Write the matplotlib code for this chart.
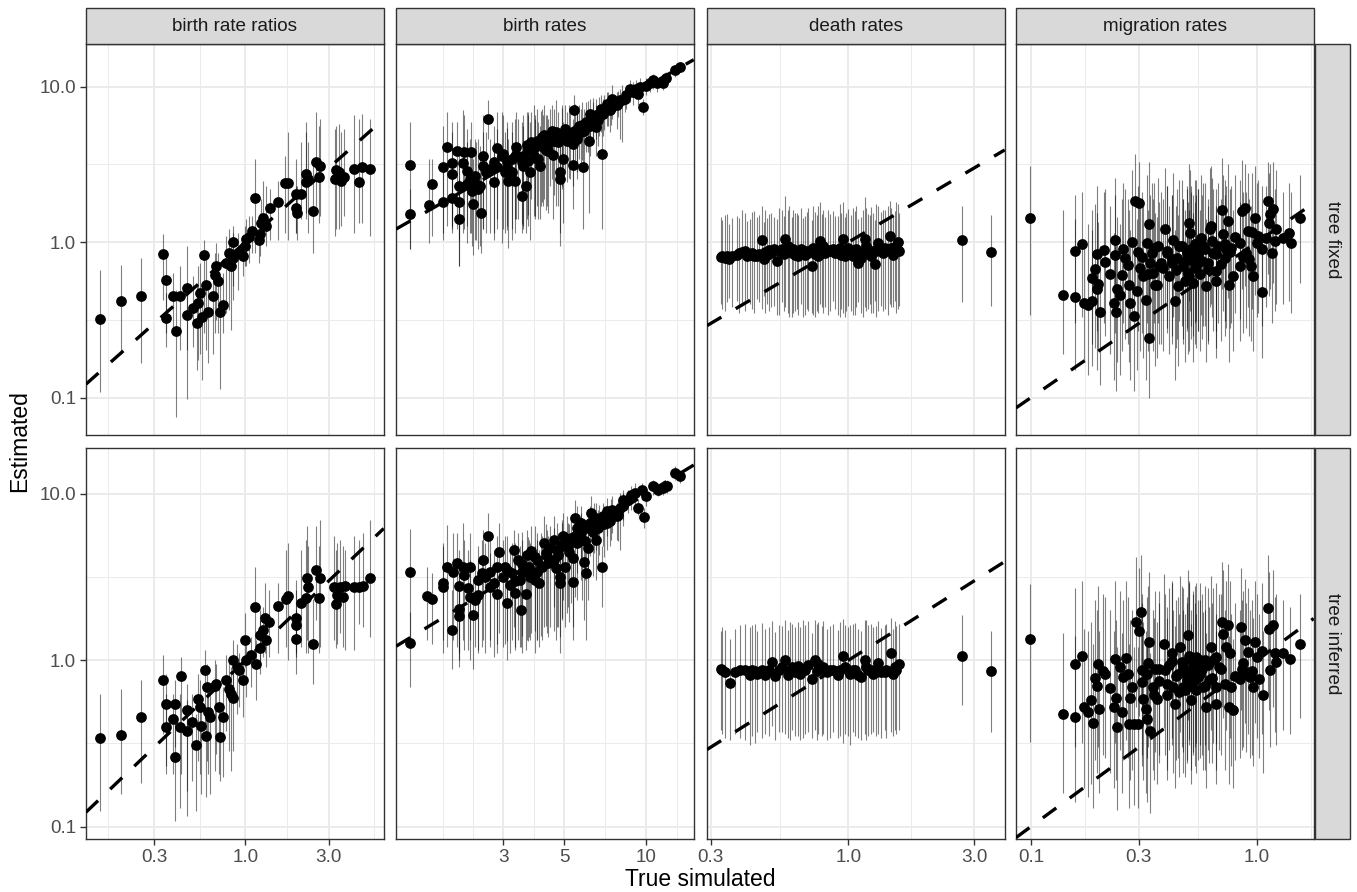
import numpy as np
import matplotlib.pyplot as plt
from matplotlib.patches import Rectangle
from matplotlib.ticker import FixedLocator, NullFormatter

plt.rcParams['font.family'] = ['Liberation Sans', 'DejaVu Sans']

# ---------------------------------------------------------------
# Data (true simulated value, estimate, interval)
# ---------------------------------------------------------------

# birth rate ratios, tree fixed
ratio_fixed_x = [0.146,0.193,0.253,0.337,0.349,0.349,0.398,0.386,0.421,0.460,
                 0.460,0.498,0.525,0.537,0.548,0.561,0.578,0.593,0.612,0.653,
                 0.668,0.677,0.698,0.719,0.739,0.778,0.807,0.832,0.851,0.851,
                 0.908,0.970,0.991,1.004,1.049,1.096,1.130,1.197,1.218,1.234,
                 1.262,1.306,1.377,1.537,1.678,1.753,1.956,1.956,1.974,2.089,
                 2.212,2.232,2.280,2.435,2.523,2.636,2.683,3.237,3.311,3.428,
                 3.537,3.646,4.159,4.463,4.664,5.180]
ratio_fixed_y = [0.319,0.416,0.452,0.845,0.574,0.324,0.268,0.448,0.448,0.507,
                 0.340,0.376,0.301,0.405,0.470,0.332,0.832,0.532,0.358,0.448,
                 0.618,0.700,0.560,0.358,0.395,0.735,0.853,0.700,0.792,1.0,
                 0.853,0.812,0.94,1.05,1.08,1.18,1.91,1.03,1.12,1.32,
                 1.44,1.27,1.67,1.82,2.39,2.39,2.05,1.67,1.55,2.03,
                 2.44,2.74,2.54,1.59,3.26,2.61,3.10,2.54,2.92,2.81,
                 2.48,2.61,2.95,2.44,3.03,2.95]
ratio_fixed_lo = [0.109,0.192,0.168,0.426,0.259,0.213,0.075,0.259,0.202,0.0985,
                  0.202,0.213,0.150,0.174,0.192,0.129,0.259,0.202,0.166,0.192,
                  0.259,0.316,0.259,0.114,0.259,0.349,0.367,0.272,0.426,0.519,
                  0.494,0.603,0.700,0.700,0.735,0.853,0.853,0.735,0.812,1.04,
                  1.04,0.94,1.04,1.04,1.15,1.04,1.15,1.15,1.04,1.40,
                  1.40,1.55,1.15,0.853,1.71,1.33,1.47,1.09,1.21,1.21,
                  1.27,1.47,1.15,1.33,1.33,1.09]
ratio_fixed_hi = [0.666,0.717,0.792,1.12,0.853,0.470,0.494,0.634,0.700,0.94,
                  0.519,0.603,0.519,0.700,0.735,0.546,1.04,0.773,0.546,0.603,
                  0.853,0.99,0.853,0.574,0.634,1.09,1.21,1.04,1.15,1.27,
                  1.15,1.09,1.27,1.40,1.47,1.47,3.42,1.40,1.55,1.89,
                  2.48,2.30,2.19,2.48,3.60,5.09,3.42,2.30,2.30,4.39,
                  5.09,5.91,4.39,3.10,6.86,5.62,6.21,5.35,5.62,5.77,
                  5.09,5.35,6.53,6.21,6.69,6.21]

# birth rate ratios, tree inferred
ratio_inferred_x = [0.146,0.193,0.253,0.337,0.349,0.349,0.395,0.395,0.386,0.425,
                    0.421,0.460,0.464,0.491,0.520,0.537,0.548,0.553,0.586,0.593,
                    0.604,0.612,0.625,0.668,0.677,0.707,0.719,0.745,0.778,0.807,
                    0.832,0.851,0.851,0.896,0.920,0.970,0.991,1.013,1.082,1.130,
                    1.156,1.207,1.218,1.262,1.290,1.306,1.365,1.537,1.70,1.753,
                    1.94,1.956,1.956,2.089,2.212,2.25,2.28,2.435,2.523,2.636,
                    2.683,3.20,3.28,3.34,3.49,3.61,3.74,4.159,4.463,4.70,
                    5.180]
ratio_inferred_y = [0.341,0.357,0.455,0.757,0.548,0.396,0.263,0.548,0.444,0.804,
                    0.396,0.504,0.378,0.424,0.311,0.587,0.523,0.405,0.879,0.352,
                    0.690,0.488,0.455,0.697,0.723,0.523,0.348,0.455,0.764,0.675,
                    0.629,0.595,1.0,0.912,0.870,0.764,1.32,1.0,1.07,2.10,
                    0.946,1.18,1.42,1.52,1.79,1.33,1.70,2.13,2.32,2.43,
                    1.79,1.63,1.35,2.20,2.36,3.11,2.77,1.25,3.49,2.36,
                    3.11,2.77,2.17,2.47,2.77,2.41,2.80,2.77,2.77,2.80,
                    3.11]
ratio_inferred_lo = [0.124,0.157,0.184,0.361,0.232,0.207,0.108,0.300,0.207,0.207,
                     0.130,0.116,0.164,0.189,0.124,0.249,0.207,0.157,0.415,0.150,
                     0.249,0.207,0.157,0.217,0.273,0.207,0.189,0.198,0.378,0.286,
                     0.217,0.286,0.659,0.477,0.523,0.455,0.912,0.601,0.690,1.20,
                     0.574,0.831,0.912,1.05,1.10,0.912,1.05,1.10,1.20,1.0,
                     1.05,1.10,0.831,1.20,1.10,1.32,1.10,0.723,1.74,1.10,
                     1.20,1.32,1.18,1.26,1.45,1.20,1.15,1.15,1.66,1.59,
                     1.38]
ratio_inferred_hi = [0.629,0.675,0.757,1.07,0.831,0.629,0.477,0.757,0.629,1.05,
                     0.629,0.723,0.574,0.629,0.477,0.831,0.757,0.629,1.15,0.523,
                     0.955,0.659,0.629,1.0,0.955,0.757,0.477,0.690,1.07,1.0,
                     0.912,0.831,1.32,1.26,1.10,1.05,1.91,1.38,1.38,3.66,
                     1.32,1.74,2.0,2.10,2.90,1.91,2.65,2.90,4.61,5.06,
                     3.04,2.65,2.0,4.61,5.30,6.38,4.83,2.32,6.38,4.83,
                     7.0,5.55,4.61,5.06,5.30,4.83,4.61,5.55,5.30,5.82,
                     7.0]

# birth rates, tree fixed
birth_fixed_x = [1.37,1.36,1.60,1.64,1.80,1.80,1.86,1.95,1.95,1.95,
                 2.03,2.06,2.06,2.06,2.13,2.15,2.20,2.28,2.27,2.33,
                 2.38,2.43,2.48,2.53,2.59,2.64,2.67,2.76,2.84,2.85,
                 2.96,3.04,3.08,3.13,3.22,3.31,3.33,3.40,3.50,3.55,
                 3.63,3.65,3.70,3.75,3.80,3.88,3.97,4.03,4.08,4.14,
                 4.22,4.32,4.56,4.67,4.76,4.83,4.83,4.90,4.97,5.04,
                 5.11,5.25,5.37,5.40,5.43,5.56,5.68,5.87,5.90,6.04,
                 6.18,6.21,6.39,6.53,6.57,6.80,6.91,6.95,7.15,7.35,
                 7.52,7.78,8.00,8.17,8.45,8.69,8.94,9.33,9.51,9.72,
                 10.0,10.6,10.9,11.5,11.8,12.7,13.3,
                 4.20,4.38,4.44,
                 4.50,3.91,3.55,3.22,3.0,2.76,2.53,2.36,2.47,2.30,
                 2.20,6.21,6.67,5.56,5.79,7.25,8.34,9.20,10.3,
                 3.1,3.3,3.5,3.7,3.9,4.1,4.3,4.6,4.9,5.2,
                 5.5,5.8,6.1,6.4,6.7,7.0,7.4,7.9]
birth_fixed_y = [3.15,1.51,1.73,2.38,3.05,1.80,4.07,1.91,3.21,2.74,
                 3.84,2.28,1.80,1.40,3.21,3.82,2.88,3.82,2.54,1.75,
                 2.36,2.19,1.55,3.10,2.81,6.15,2.95,2.44,4.01,3.03,
                 3.60,2.81,3.34,2.48,3.42,2.48,4.07,3.60,1.98,3.10,
                 2.30,4.22,3.34,2.81,4.39,3.60,4.50,3.42,3.10,4.73,
                 4.89,4.18,3.63,5.09,4.39,2.81,2.54,4.84,3.42,5.35,
                 4.50,4.84,3.13,4.28,7.03,5.09,5.62,3.03,5.22,5.91,
                 4.50,6.69,6.21,5.48,6.53,7.21,3.69,6.69,7.76,7.03,
                 8.36,7.57,8.16,8.16,8.79,9.61,9.24,9.01,9.95,7.39,
                 10.1,11.0,10.5,10.5,11.3,12.8,13.4,
                 4.07,3.87,4.61,
                 5.22,4.07,3.60,2.81,3.69,3.26,3.60,2.67,2.30,2.14,
                 2.36,5.62,6.06,4.61,5.09,7.57,8.36,9.71,10.5,
                 3.0,3.6,3.3,3.9,3.5,4.2,3.9,4.5,4.6,5.0,
                 5.2,5.7,5.9,6.3,6.6,7.1,7.3,7.9]
birth_fixed_lo = [0.90,0.90,0.99,1.09,1.15,1.04,1.27,1.15,1.21,1.27,
                  1.21,1.04,0.70,0.70,1.15,1.21,1.27,1.15,1.15,0.832,
                  1.04,0.90,0.853,1.21,1.15,4.61,1.15,1.04,1.40,1.21,
                  0.99,1.15,1.27,0.92,1.21,1.15,1.40,1.40,1.15,1.21,
                  1.15,1.40,1.27,1.04,1.89,1.47,1.71,1.40,1.40,1.80,
                  1.89,1.71,1.40,1.71,1.71,0.94,1.15,2.30,1.33,2.81,
                  2.42,2.54,1.63,2.30,3.97,2.81,3.42,1.21,2.81,3.78,
                  1.55,4.39,4.39,3.60,4.61,5.09,1.21,4.84,5.62,5.09,
                  6.21,5.35,4.61,4.39,7.21,7.96,7.57,7.57,8.36,6.53,
                  8.79,9.71,9.24,9.47,9.95,11.5,12.4,
                  1.71,1.55,2.30,
                  2.54,1.47,1.27,1.04,1.21,1.15,1.21,1.04,0.94,0.94,
                  0.99,3.60,4.18,2.54,3.10,5.62,6.86,8.36,9.24,
                  1.2,1.4,1.3,1.5,1.4,1.7,1.6,2.0,2.2,2.6,
                  2.9,3.4,3.8,4.3,4.8,5.3,5.7,6.4]
birth_fixed_hi = [5.91,2.19,3.42,3.42,5.62,3.10,6.86,3.42,5.91,5.09,
                  5.91,4.18,3.10,2.54,7.03,6.53,5.35,5.91,4.61,3.42,
                  4.39,4.61,2.81,5.09,5.09,8.16,4.61,4.39,6.86,5.35,
                  6.86,5.09,5.91,4.61,5.91,4.18,6.86,6.21,3.42,5.62,
                  4.39,6.86,6.86,5.91,6.86,7.57,7.21,5.91,5.62,7.21,
                  7.57,6.53,5.62,8.16,6.86,4.84,4.61,7.57,5.91,7.57,
                  6.86,7.21,5.09,6.21,8.79,7.21,7.57,5.09,7.21,7.96,
                  6.53,8.36,7.96,7.57,8.36,8.79,5.91,8.36,9.24,8.79,
                  10.2,9.24,9.71,10.2,10.2,11.0,10.7,10.5,11.3,8.36,
                  11.3,12.1,11.5,11.5,12.4,13.7,14.4,
                  6.53,6.21,7.21,
                  7.57,6.53,6.53,5.09,6.53,5.62,6.53,4.61,4.18,3.78,
                  4.39,7.21,7.57,6.86,7.21,9.24,9.95,11.0,11.5,
                  5.4,6.2,5.9,6.6,6.2,7.0,6.6,7.2,7.3,7.6,
                  7.7,8.0,8.1,8.4,8.6,8.9,9.0,9.4]

# birth rates, tree inferred
birth_inferred_x = [1.36,1.37,1.58,1.64,1.80,1.80,1.86,1.95,1.96,2.03,
                    2.06,2.06,2.06,2.13,2.15,2.23,2.27,2.27,2.33,2.36,
                    2.43,2.50,2.57,2.64,2.67,2.84,2.88,2.84,3.0,3.10,
                    3.17,3.28,3.31,3.40,3.47,3.52,3.63,3.65,3.73,3.80,
                    3.91,3.99,4.06,4.14,4.22,4.32,4.44,4.59,4.67,4.76,
                    4.83,4.83,4.93,5.04,5.11,5.28,5.37,5.37,5.47,5.56,
                    5.75,5.90,5.96,6.04,6.13,6.21,6.30,6.43,6.53,6.67,
                    6.86,6.95,7.15,7.35,7.52,7.78,8.0,8.22,8.58,8.82,
                    9.06,9.33,9.67,9.78,10.0,10.6,11.0,11.5,11.9,12.7,
                    13.3,
                    2.68,2.43,2.53,2.76,3.04,3.22,3.45,3.75,
                    3.97,4.38,4.70,4.97,5.18,5.56,5.79,6.57,7.15,8.22,
                    3.1,3.3,3.5,3.7,3.9,4.1,4.3,4.6,4.9,5.2,
                    5.5,5.8,6.1,6.4,6.7,7.0,7.4,7.9]
birth_inferred_y = [1.27,3.37,2.43,2.32,2.90,2.77,3.66,1.52,3.41,3.83,
                    2.80,2.02,1.84,3.66,3.26,2.71,3.66,2.41,1.87,2.30,
                    2.47,3.33,3.18,5.60,2.77,2.50,4.45,3.66,3.18,2.22,
                    2.84,4.61,2.52,4.01,2.00,3.41,2.50,4.30,3.66,4.51,
                    3.04,4.01,2.90,3.66,5.06,4.21,4.72,5.30,3.57,4.30,
                    3.18,2.90,4.83,3.61,5.30,5.42,4.11,2.97,7.16,6.24,
                    5.82,3.92,5.18,3.33,4.72,6.68,7.68,7.0,5.30,6.24,
                    3.66,7.33,6.68,6.84,8.04,7.33,8.23,9.24,9.24,9.91,
                    10.1,8.23,10.6,7.26,9.68,11.1,10.6,10.9,11.1,13.4,
                    12.8,
                    3.41,3.04,4.01,2.90,3.66,3.33,3.04,3.18,
                    3.41,3.83,4.61,5.55,4.83,5.06,6.68,7.16,7.86,8.43,
                    3.5,3.0,3.8,3.4,4.2,3.7,4.4,4.0,4.9,4.5,
                    5.6,5.3,6.2,5.9,6.9,6.6,7.6,7.5]
birth_inferred_lo = [0.69,1.32,1.32,1.26,1.10,1.32,1.20,0.891,1.32,1.20,
                     0.912,1.0,1.10,1.32,1.15,1.15,1.32,1.0,0.891,1.20,
                     1.10,1.20,1.10,3.83,1.20,1.10,1.45,1.26,1.20,1.0,
                     1.10,1.59,1.15,1.32,1.20,1.10,1.15,1.32,1.38,1.45,
                     1.10,1.32,1.20,1.32,1.59,1.45,1.59,2.10,1.32,1.59,
                     1.38,1.10,1.74,1.59,1.91,2.20,1.59,1.32,4.83,3.33,
                     3.04,1.74,3.04,1.32,2.30,4.21,5.55,4.40,3.04,3.66,
                     2.10,4.83,4.61,4.83,5.82,5.30,4.61,7.0,7.68,8.04,
                     8.43,7.50,9.24,6.24,8.43,9.91,9.68,9.91,10.1,12.2,
                     11.6,
                     1.32,1.15,1.32,1.05,1.26,1.32,1.20,1.32,
                     1.32,1.38,1.59,2.30,2.10,2.30,4.01,4.61,5.55,6.38,
                     1.3,1.2,1.4,1.3,1.5,1.4,1.6,1.5,1.8,1.7,
                     2.4,2.3,3.3,3.2,4.3,4.2,5.3,5.2]
birth_inferred_hi = [1.96,6.15,3.66,3.33,5.06,4.83,6.53,2.65,5.82,5.82,
                     4.61,3.33,3.04,6.68,5.30,4.61,5.82,4.01,3.04,3.66,
                     4.01,5.30,5.06,7.68,4.40,3.83,6.68,5.55,5.30,3.66,
                     4.61,6.09,4.21,5.82,3.33,5.30,4.21,6.09,5.30,6.38,
                     4.83,5.82,4.61,5.55,7.33,6.09,6.38,7.33,5.55,5.82,
                     4.83,4.61,6.68,5.55,7.33,7.33,5.82,4.61,9.24,8.43,
                     7.68,5.30,7.0,4.83,6.68,8.43,9.68,8.82,7.0,8.04,
                     4.83,8.82,8.43,8.43,9.68,8.82,10.1,10.6,10.6,11.1,
                     11.6,9.24,11.6,8.23,10.6,12.2,11.6,11.9,12.2,14.7,
                     14.0,
                     5.30,4.83,6.09,4.61,5.55,5.06,4.83,5.06,
                     5.30,5.55,6.68,7.68,6.68,7.0,8.43,8.82,9.46,10.1,
                     5.6,5.1,5.9,5.5,6.4,5.8,6.6,6.2,7.0,6.6,
                     7.5,7.2,8.1,7.9,8.6,8.4,9.3,9.2]

# death rates, tree fixed
death_fixed_x = [0.327,0.340,0.352,0.362,0.376,0.406,0.424,0.437,0.450,0.470,
                 0.477,0.498,0.520,0.535,0.559,0.575,0.589,0.610,0.627,0.646,
                 0.661,0.675,0.695,0.725,0.736,0.757,0.780,0.802,0.814,0.851,
                 0.875,0.914,0.941,0.955,0.969,0.997,1.026,1.057,1.087,1.119,
                 1.152,1.169,1.204,1.239,1.257,1.295,1.332,1.371,1.432,1.475,
                 1.496,1.539,1.562,
                 0.332,0.347,0.384,0.395,0.412,0.431,0.456,
                 0.483,0.491,0.509,0.543,0.567,0.596,0.618,0.637,0.684,0.705,
                 0.746,0.769,0.791,0.834,0.888,0.927,0.983,1.042,1.072,1.136,
                 1.186,1.221,1.276,1.352,1.412,1.453,1.517,
                 2.69,3.48]
death_fixed_y = [0.804,0.792,0.780,0.820,0.832,0.875,0.832,0.820,0.812,1.03,
                 0.780,0.888,0.90,0.753,0.90,1.05,0.94,0.853,0.832,0.812,
                 0.90,0.853,0.875,0.70,0.92,0.875,1.015,0.94,0.853,0.875,
                 0.90,0.888,0.832,1.05,0.812,0.92,0.845,0.875,0.735,0.792,
                 1.05,0.94,0.853,0.875,0.728,0.99,0.90,0.92,1.09,0.832,
                 0.90,1.0,0.875,
                 0.812,0.812,0.853,0.861,0.812,0.853,0.845,
                 0.861,0.832,0.853,0.875,0.845,0.875,0.90,0.861,0.832,0.853,
                 0.845,0.820,0.861,0.888,0.853,0.92,0.875,0.812,0.906,0.853,
                 0.888,0.820,0.875,0.853,0.888,0.92,0.94,
                 1.03,0.866]
death_fixed_lo = [0.40,0.36,0.44,0.38,0.42,0.36,0.40,0.35,0.43,0.37,
                  0.45,0.36,0.39,0.34,0.41,0.38,0.35,0.33,0.36,0.34,
                  0.40,0.33,0.37,0.35,0.34,0.36,0.40,0.35,0.38,0.36,
                  0.42,0.34,0.37,0.35,0.33,0.39,0.36,0.34,0.41,0.35,
                  0.38,0.36,0.40,0.35,0.42,0.36,0.39,0.37,0.40,0.38,
                  0.42,0.37,0.39,
                  0.37,0.41,0.35,0.39,0.43,0.37,0.41,
                  0.35,0.40,0.38,0.34,0.36,0.33,0.35,0.37,0.34,0.36,
                  0.33,0.35,0.38,0.34,0.37,0.33,0.36,0.34,0.38,0.33,
                  0.37,0.35,0.33,0.36,0.34,0.38,0.35,
                  0.415,0.386]
death_fixed_hi = [1.45,1.50,1.30,1.42,1.48,1.55,1.40,1.58,1.45,1.70,
                  1.35,1.52,1.46,1.40,1.60,1.98,1.62,1.45,1.55,1.50,
                  1.66,1.42,1.56,1.38,1.72,1.50,1.80,1.60,1.46,1.52,
                  1.58,1.48,1.55,1.82,1.45,1.63,1.50,1.58,1.40,1.46,
                  1.95,1.66,1.50,1.55,1.38,1.70,1.56,1.62,1.85,1.50,
                  1.58,1.75,1.55,
                  1.38,1.52,1.44,1.60,1.36,1.57,1.49,
                  1.62,1.42,1.55,1.65,1.48,1.70,1.60,1.53,1.48,1.66,
                  1.57,1.70,1.52,1.62,1.48,1.75,1.55,1.66,1.72,1.60,
                  1.52,1.68,1.75,1.60,1.72,1.66,1.80,
                  1.71,1.49]

# death rates, tree inferred
death_inferred_x = [0.327,0.340,0.354,0.372,0.406,0.424,0.431,0.450,0.470,0.483,
                    0.512,0.527,0.559,0.575,0.592,0.610,0.646,0.655,0.684,0.705,
                    0.725,0.746,0.769,0.791,0.826,0.875,0.914,0.955,0.969,0.997,
                    1.042,1.087,1.119,1.152,1.186,1.239,1.295,1.332,1.371,1.445,
                    1.475,1.517,1.562,
                    0.332,0.389,0.443,0.498,0.543,0.601,0.627,
                    0.675,0.757,0.802,0.851,0.927,1.012,1.057,1.169,1.221,1.276,
                    1.392,1.496,
                    2.69,3.48]
death_inferred_y = [0.891,0.851,0.730,0.851,0.879,0.812,0.870,0.831,0.870,0.812,
                    0.977,0.800,0.912,1.0,0.812,0.912,0.920,0.831,0.870,0.933,
                    0.775,1.0,0.955,0.870,0.851,0.870,0.812,1.057,0.912,0.870,
                    0.870,0.812,0.793,1.0,0.870,0.831,0.964,0.851,0.851,1.11,
                    0.831,0.870,0.946,
                    0.870,0.870,0.862,0.870,0.879,0.862,0.851,
                    0.891,0.858,0.912,0.879,0.870,0.831,0.879,0.912,0.879,0.851,
                    0.870,0.912,
                    1.06,0.859]
death_inferred_lo = [0.38,0.34,0.33,0.36,0.33,0.31,0.35,0.37,0.34,0.36,
                     0.40,0.33,0.37,0.36,0.34,0.38,0.35,0.33,0.36,0.37,
                     0.34,0.38,0.36,0.35,0.33,0.37,0.34,0.32,0.36,0.35,
                     0.37,0.34,0.33,0.36,0.35,0.37,0.36,0.34,0.38,0.37,
                     0.35,0.36,0.38,
                     0.36,0.34,0.32,0.35,0.37,0.33,0.35,
                     0.34,0.33,0.36,0.34,0.35,0.31,0.35,0.33,0.36,0.35,
                     0.34,0.38,
                     0.542,0.369]
death_inferred_hi = [1.50,1.52,1.35,1.55,1.66,1.58,1.62,1.50,1.68,1.55,
                     1.72,1.48,1.60,1.74,1.52,1.66,1.70,1.58,1.62,1.72,
                     1.46,1.74,1.70,1.60,1.55,1.66,1.52,1.78,1.64,1.58,
                     1.66,1.55,1.50,1.74,1.62,1.58,1.72,1.56,1.62,1.80,
                     1.55,1.60,1.66,
                     1.58,1.62,1.66,1.58,1.64,1.70,1.58,
                     1.74,1.66,1.72,1.60,1.70,1.62,1.68,1.74,1.66,1.60,
                     1.66,1.72,
                     1.87,1.50]

# migration rates, tree fixed
migr_fixed_x = [0.0986,0.138,0.156,0.156,0.168,0.172,0.178,0.186,0.186,0.192,
                0.197,0.199,0.197,0.202,0.211,0.213,0.224,0.232,0.236,0.236,
                0.238,0.241,0.248,0.252,0.256,0.261,0.270,0.272,0.274,0.279,
                0.286,0.289,0.302,0.294,0.299,0.304,0.314,0.323,0.325,0.334,
                0.334,0.336,0.342,0.348,0.354,0.360,0.366,0.378,0.385,0.392,
                0.398,0.409,0.419,0.426,0.433,0.441,0.448,0.464,0.472,0.480,
                0.488,0.496,0.501,0.505,0.513,0.522,0.531,0.540,0.549,0.568,
                0.578,0.598,0.608,0.618,0.629,0.640,0.658,0.662,0.673,0.697,
                0.708,0.720,0.732,0.745,0.752,0.771,0.784,0.839,0.844,0.861,
                0.883,0.891,0.912,0.922,0.944,0.960,0.977,1.0,1.01,1.056,
                1.099,1.118,1.129,1.137,1.169,1.176,1.197,1.302,1.393,1.408,
                1.553,
                0.31,0.33,0.35,0.37,0.40,0.42,0.44,0.45,0.47,0.49,
                0.50,0.51,0.52,0.53,0.54,0.55,0.56,0.57,0.59,0.61,
                0.63,0.66,0.69,0.72,0.76,0.80,0.87,0.95,1.05,1.22]
migr_fixed_y = [1.44,0.454,0.441,0.875,0.98,0.409,0.395,0.416,0.588,0.673,
                0.845,0.541,0.499,0.355,0.888,0.743,0.627,0.409,1.03,0.832,
                0.358,0.499,0.459,0.618,0.906,0.792,0.717,0.532,0.405,1.0,
                0.336,1.84,1.78,0.482,0.861,0.683,0.603,0.426,0.99,1.30,
                0.241,0.735,0.853,0.634,0.532,0.532,0.94,0.735,0.683,1.21,
                0.853,0.603,0.735,1.04,0.416,0.792,0.519,0.94,0.700,0.560,
                0.853,0.634,1.33,1.15,0.773,0.546,0.966,0.700,0.853,1.07,
                0.94,0.519,0.735,1.21,1.27,0.853,0.560,0.649,0.94,1.61,
                1.12,0.792,0.90,1.37,0.532,0.92,0.603,0.99,0.700,1.59,
                1.67,0.853,1.18,0.780,0.700,0.603,1.44,0.99,1.09,0.475,
                1.07,1.84,1.32,1.51,0.853,1.63,1.015,1.07,1.15,0.99,
                1.42,
                0.80,0.62,0.92,0.70,0.88,0.78,0.66,0.95,0.74,0.86,
                0.61,0.90,0.79,0.68,0.97,0.83,0.62,0.76,0.91,0.67,
                1.02,0.84,0.72,0.97,0.86,1.08,0.80,1.16,0.90,1.21]
migr_fixed_lo = [0.34,0.19,0.15,0.30,0.33,0.17,0.14,0.16,0.22,0.21,
                 0.27,0.20,0.15,0.12,0.30,0.25,0.19,0.13,0.35,0.26,
                 0.11,0.17,0.14,0.20,0.30,0.24,0.22,0.17,0.13,0.33,
                 0.11,0.48,0.50,0.15,0.27,0.20,0.18,0.13,0.30,0.40,
                 0.10,0.23,0.25,0.20,0.16,0.18,0.30,0.22,0.20,0.38,
                 0.26,0.19,0.22,0.33,0.13,0.24,0.16,0.29,0.22,0.17,
                 0.27,0.19,0.42,0.36,0.24,0.17,0.30,0.21,0.27,0.34,
                 0.29,0.17,0.23,0.38,0.40,0.27,0.18,0.21,0.30,0.50,
                 0.36,0.25,0.28,0.44,0.17,0.30,0.20,0.32,0.23,0.50,
                 0.52,0.28,0.38,0.25,0.23,0.20,0.46,0.33,0.35,0.18,
                 0.38,0.62,0.45,0.50,0.30,0.55,0.36,0.40,0.42,0.35,
                 0.55,
                 0.26,0.20,0.30,0.22,0.28,0.25,0.21,0.31,0.24,0.28,
                 0.20,0.29,0.25,0.22,0.31,0.27,0.20,0.24,0.29,0.22,
                 0.33,0.27,0.23,0.31,0.28,0.35,0.26,0.37,0.29,0.40]
migr_fixed_hi = [3.10,1.60,1.40,2.0,2.1,1.05,1.30,1.20,1.60,1.75,
                 2.3,1.35,1.55,0.95,2.1,2.2,1.70,1.15,2.6,2.0,
                 1.0,1.45,1.30,1.9,2.4,2.2,1.9,1.6,1.2,2.9,
                 0.95,3.7,3.3,1.4,2.3,1.9,1.75,1.3,2.7,3.3,
                 0.62,2.0,2.4,1.9,1.55,1.45,2.6,2.1,1.9,3.0,
                 2.3,1.7,2.0,2.8,1.2,2.2,1.5,2.5,1.9,1.6,
                 2.3,1.8,3.2,2.9,2.1,1.55,2.5,2.0,2.2,2.7,
                 2.4,1.4,1.9,3.0,3.1,2.2,1.5,1.7,2.4,3.5,
                 2.7,2.0,2.3,3.2,1.4,2.3,1.6,2.5,1.8,3.4,
                 3.2,2.1,2.8,1.9,1.7,1.5,3.1,2.4,2.5,1.05,
                 2.3,3.3,2.8,3.2,1.9,3.3,2.2,2.1,2.4,2.1,
                 2.7,
                 2.1,1.6,2.4,1.8,2.3,2.0,1.7,2.5,1.9,2.2,
                 1.6,2.3,2.0,1.8,2.5,2.2,1.6,2.0,2.4,1.7,
                 2.6,2.2,1.9,2.5,2.2,2.7,2.1,2.8,2.3,2.9]

# migration rates, tree inferred
migr_inferred_x = [0.0986,0.138,0.156,0.156,0.168,0.172,0.178,0.184,0.188,0.192,
                   0.196,0.199,0.201,0.209,0.213,0.224,0.232,0.236,0.238,0.241,
                   0.248,0.252,0.256,0.264,0.270,0.272,0.274,0.279,0.286,0.292,
                   0.299,0.302,0.306,0.309,0.314,0.323,0.325,0.327,0.334,0.336,
                   0.348,0.354,0.360,0.370,0.388,0.392,0.398,0.409,0.419,0.426,
                   0.433,0.448,0.456,0.464,0.472,0.480,0.488,0.496,0.501,0.513,
                   0.522,0.531,0.540,0.558,0.578,0.588,0.598,0.614,0.629,0.640,
                   0.658,0.662,0.680,0.697,0.708,0.727,0.745,0.752,0.771,0.784,
                   0.839,0.853,0.861,0.883,0.897,0.912,0.928,0.960,0.977,1.0,
                   1.02,1.063,1.118,1.129,1.137,1.176,1.197,1.302,1.40,1.553,
                   0.31,0.33,0.35,0.37,0.40,0.42,0.44,0.45,0.47,0.49,
                   0.50,0.51,0.52,0.53,0.54,0.55,0.56,0.57,0.59,0.61,
                   0.63,0.66,0.69,0.72,0.76,0.80,0.87,0.95,1.05,1.22]
migr_inferred_y = [1.35,0.477,0.459,0.946,1.057,0.523,0.488,0.579,0.418,0.786,
                   0.697,0.946,0.511,0.862,0.823,0.684,0.523,1.02,0.595,0.396,
                   0.912,0.488,0.793,1.038,0.831,0.415,0.595,0.690,0.415,1.70,
                   0.411,1.50,1.96,0.870,0.587,0.511,0.444,0.831,1.29,0.378,
                   0.690,0.891,0.587,0.750,1.25,0.870,0.615,0.933,1.10,0.690,
                   0.548,0.831,1.20,0.977,0.690,0.659,0.831,1.42,1.02,0.574,
                   0.912,0.757,1.05,0.831,0.690,1.0,0.523,0.757,1.20,1.0,
                   0.548,0.690,0.912,1.70,1.44,1.20,1.63,0.523,0.690,0.499,
                   0.775,1.59,0.891,1.32,0.851,1.12,0.793,0.690,1.29,1.05,
                   0.775,0.615,2.05,1.55,0.870,1.63,1.10,1.10,1.02,1.25,
                   0.74,0.96,0.62,0.88,0.72,0.99,0.80,0.64,0.91,0.76,
                   1.06,0.70,0.86,0.97,0.66,0.79,1.01,0.88,0.70,0.93,
                   0.78,1.04,0.88,0.72,1.10,0.80,0.96,0.86,1.14,0.98]
migr_inferred_lo = [0.321,0.16,0.14,0.30,0.32,0.17,0.15,0.18,0.13,0.25,
                    0.21,0.30,0.16,0.27,0.26,0.21,0.17,0.32,0.19,0.125,
                    0.29,0.16,0.25,0.33,0.26,0.13,0.19,0.22,0.135,0.52,
                    0.13,0.46,0.58,0.27,0.19,0.16,0.14,0.26,0.40,0.12,
                    0.22,0.28,0.18,0.24,0.39,0.27,0.19,0.29,0.34,0.21,
                    0.17,0.26,0.37,0.30,0.21,0.20,0.25,0.44,0.31,0.18,
                    0.28,0.23,0.32,0.26,0.22,0.31,0.17,0.24,0.38,0.32,
                    0.18,0.22,0.29,0.52,0.45,0.38,0.50,0.18,0.23,0.17,
                    0.26,0.50,0.29,0.42,0.28,0.36,0.26,0.23,0.42,0.34,
                    0.26,0.21,0.62,0.50,0.30,0.52,0.37,0.38,0.36,0.45,
                    0.23,0.30,0.19,0.27,0.22,0.31,0.25,0.20,0.28,0.24,
                    0.33,0.22,0.27,0.30,0.21,0.25,0.31,0.27,0.22,0.29,
                    0.24,0.32,0.27,0.22,0.34,0.25,0.30,0.27,0.36,0.31]
migr_inferred_hi = [2.88,1.45,1.40,2.7,3.0,1.55,1.5,1.7,1.25,2.3,
                    2.0,2.8,1.5,2.5,2.4,2.0,1.5,3.0,1.75,1.2,
                    2.6,1.45,2.3,3.0,2.4,1.25,1.75,2.0,1.2,4.2,
                    1.2,3.6,4.3,2.5,1.7,1.5,1.3,2.4,3.4,1.1,
                    2.0,2.6,1.7,2.2,3.3,2.5,1.8,2.7,3.0,2.0,
                    1.6,2.4,3.2,2.8,2.0,1.9,2.4,3.5,2.9,1.65,
                    2.6,2.2,2.9,2.3,1.95,2.8,1.45,2.1,3.2,2.7,
                    1.5,1.9,2.5,3.9,3.5,3.0,3.8,1.4,1.9,1.35,
                    2.0,3.6,2.3,3.1,2.2,2.7,2.0,1.8,3.0,2.5,
                    1.9,1.5,4.3,3.4,2.0,3.5,2.4,2.3,2.1,2.5,
                    2.2,2.8,1.8,2.6,2.1,2.9,2.3,1.9,2.7,2.2,
                    3.0,2.0,2.5,2.8,1.9,2.3,2.9,2.5,2.0,2.7,
                    2.2,2.9,2.5,2.0,3.0,2.2,2.6,2.3,2.9,2.5]

col_titles = ["birth rate ratios", "birth rates", "death rates", "migration rates"]
row_titles = ["tree fixed", "tree inferred"]
col_breaks = [[0.3, 1, 3], [3, 5, 10], [0.3, 1, 3], [0.1, 0.3, 1]]
col_labels = [["0.3", "1.0", "3.0"], ["3", "5", "10"], ["0.3", "1.0", "3.0"], ["0.1", "0.3", "1.0"]]
y_breaks = [0.1, 1, 10]
y_labels = ["0.1", "1.0", "10.0"]

grid_data = [
    [(ratio_fixed_x, ratio_fixed_y, ratio_fixed_lo, ratio_fixed_hi),
     (birth_fixed_x, birth_fixed_y, birth_fixed_lo, birth_fixed_hi),
     (death_fixed_x, death_fixed_y, death_fixed_lo, death_fixed_hi),
     (migr_fixed_x, migr_fixed_y, migr_fixed_lo, migr_fixed_hi)],
    [(ratio_inferred_x, ratio_inferred_y, ratio_inferred_lo, ratio_inferred_hi),
     (birth_inferred_x, birth_inferred_y, birth_inferred_lo, birth_inferred_hi),
     (death_inferred_x, death_inferred_y, death_inferred_lo, death_inferred_hi),
     (migr_inferred_x, migr_inferred_y, migr_inferred_lo, migr_inferred_hi)],
]


# --- helpers (ggplot-like limits and minor breaks on a log10 scale) ---
def log_limits(values):
    a, b = np.log10(np.min(values)), np.log10(np.max(values))
    d = 0.05 * (b - a)
    return 10 ** (a - d), 10 ** (b + d)


def minor_breaks(majors, lims):
    b = list(np.log10(majors))
    lo, hi = np.log10(lims)
    bd = b[1] - b[0]
    if lo < b[0]:
        b = [b[0] - bd] + b
    if hi > b[-1]:
        b = b + [b[-1] + bd]
    out = []
    for a, c in zip(b[:-1], b[1:]):
        out += [a, (a + c) / 2]
    out.append(b[-1])
    return [10 ** v for v in out]


# --- figure layout (pixel boxes of the original 1357x892 picture) ---
W, H = 1357, 892
fig = plt.figure(figsize=(W / 100, H / 100), dpi=100)

col_left = [86, 396, 707, 1016]
col_w = 297.7
row_top = [44.3, 448.3]
row_h = 390.5
strip_h = 36
strip_w = 35


def box(x, y, w, h):
    return [x / W, 1 - (y + h) / H, w / W, h / H]


xlims = [log_limits(np.concatenate([grid_data[r][c][0] for r in range(2)])) for c in range(4)]
ylims = [log_limits(np.concatenate([grid_data[r][c][2] + grid_data[r][c][3] for c in range(4)]))
         for r in range(2)]

for r in range(2):
    for c in range(4):
        x, y, lo, hi = grid_data[r][c]
        ax = fig.add_axes(box(col_left[c], row_top[r], col_w, row_h))
        ax.set_xscale('log')
        ax.set_yscale('log')
        ax.set_xlim(*xlims[c])
        ax.set_ylim(*ylims[r])

        ax.vlines(x, lo, hi, colors='black', alpha=0.5, linewidth=0.8, zorder=2)
        ax.scatter(x, y, s=60, c='black', linewidths=0, zorder=3)
        ax.axline((1, 1), (10, 10), color='black', lw=2.4,
                  linestyle=(0, (5.0, 5.0)), zorder=4)

        ax.set_xticks(col_breaks[c])
        ax.set_xticklabels(col_labels[c])
        ax.set_yticks(y_breaks)
        ax.set_yticklabels(y_labels)
        ax.xaxis.set_minor_locator(FixedLocator(minor_breaks(col_breaks[c], xlims[c])))
        ax.yaxis.set_minor_locator(FixedLocator(minor_breaks(y_breaks, ylims[r])))
        ax.xaxis.set_minor_formatter(NullFormatter())
        ax.yaxis.set_minor_formatter(NullFormatter())

        ax.set_axisbelow(True)
        ax.grid(which='major', color='#EBEBEB', lw=1.4)
        ax.grid(which='minor', color='#EBEBEB', lw=0.7)
        for sp in ax.spines.values():
            sp.set_color('#333333')
            sp.set_linewidth(1.0)
        ax.tick_params(which='major', length=4.3, width=1.0, color='#333333',
                       labelsize=13.6, labelcolor='#4D4D4D', pad=2.8)
        ax.tick_params(which='minor', length=0, width=0)
        ax.tick_params(bottom=(r == 1), labelbottom=(r == 1),
                       left=(c == 0), labelleft=(c == 0))

# strips
for c in range(4):
    fig.add_artist(Rectangle((col_left[c] / W, 1 - (8.3 + strip_h) / H), col_w / W, strip_h / H,
                             transform=fig.transFigure, facecolor='#D9D9D9',
                             edgecolor='#333333', lw=1.0))
    fig.text((col_left[c] + col_w / 2) / W, 1 - (8.3 + strip_h / 2) / H, col_titles[c],
             ha='center', va='center', fontsize=13.6, color='#1A1A1A')
for r in range(2):
    fig.add_artist(Rectangle((1315 / W, 1 - (row_top[r] + row_h) / H), strip_w / W, row_h / H,
                             transform=fig.transFigure, facecolor='#D9D9D9',
                             edgecolor='#333333', lw=1.0))
    fig.text((1315 + strip_w / 2) / W, 1 - (row_top[r] + row_h / 2) / H, row_titles[r],
             ha='center', va='center', rotation=-90, fontsize=13.6, color='#1A1A1A')

fig.text(700 / W, 1 - 879 / H, "True simulated", ha='center', va='center', fontsize=16.5)
fig.text(20 / W, 1 - 441 / H, "Estimated", ha='center', va='center', rotation=90, fontsize=16.5)

fig.savefig('out.png', dpi=100)
